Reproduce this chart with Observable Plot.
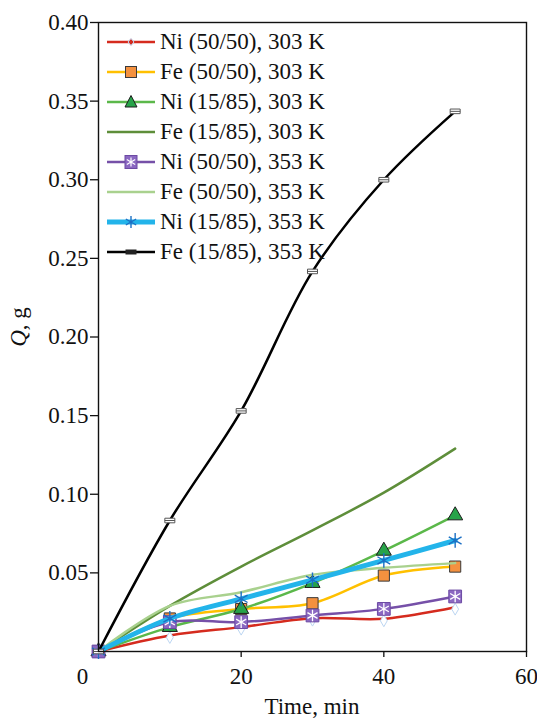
<!DOCTYPE html>
<html>
<head>
<meta charset="utf-8">
<script src="https://cdn.jsdelivr.net/npm/d3@7"></script>
<script src="https://cdn.jsdelivr.net/npm/@observablehq/plot@0.6"></script>
<style>
  html, body { margin: 0; padding: 0; background: #fff; }
  #wrap { position: relative; width: 537px; height: 722px; font-family: "Liberation Serif", "Times New Roman", serif; }
  #legend { position: absolute; left: 105px; top: 27px; }
  .row { height: 30px; display: flex; align-items: center; }
  .row svg { width: 52px; height: 20px; flex: none; }
  .row span { font-size: 23px; color: #111; margin-left: 3px; line-height: 30px; white-space: nowrap; }
  #ylab { position: absolute; left: 19px; top: 327px; transform: translate(-50%, -50%) rotate(-90deg); font-size: 23px; white-space: nowrap; color: #111; }
  #xlab { position: absolute; left: 312px; top: 694px; transform: translateX(-50%); font-size: 23px; white-space: nowrap; color: #111; }
</style>
</head>
<body>
<div id="wrap"></div>
<script>
// ---- data ----
const time = [0, 10, 20, 30, 40, 50];
const seriesNames = [
  "Ni (50/50), 303 K", "Fe (50/50), 303 K", "Ni (15/85), 303 K", "Fe (15/85), 303 K",
  "Ni (50/50), 353 K", "Fe (50/50), 353 K", "Ni (15/85), 353 K", "Fe (15/85), 353 K"
];
const ni5050_303 = [0, 0.0102, 0.0155, 0.0212, 0.0208, 0.0282];
const fe5050_303 = [0, 0.0210, 0.0270, 0.0307, 0.0483, 0.0540];
const ni1585_303 = [0, 0.0155, 0.0270, 0.0435, 0.0640, 0.0865];
const fe1585_303 = [0, 0.0290, 0.0540, 0.0770, 0.1010, 0.1290];
const ni5050_353 = [0, 0.0187, 0.0187, 0.0229, 0.0271, 0.0350];
const fe5050_353 = [0, 0.0290, 0.0377, 0.0488, 0.0532, 0.0562];
const ni1585_353 = [0, 0.0210, 0.0335, 0.0456, 0.0579, 0.0706];
const fe1585_353 = [0, 0.0833, 0.1530, 0.2417, 0.3000, 0.3435];
const yTicks = [0.05, 0.10, 0.15, 0.20, 0.25, 0.30, 0.35, 0.40];
const xTicks = [20, 40, 60];

const values = [ni5050_303, fe5050_303, ni1585_303, fe1585_303, ni5050_353, fe5050_353, ni1585_353, fe1585_353];
const rows = (vals) => time.map((t, i) => ({t, q: vals[i]}));

// ---- styles ----
const lineStyle = [
  {stroke: "#d52b1e", w: 2.5},
  {stroke: "#ffc000", w: 2.5},
  {stroke: "#5bb84a", w: 2.5},
  {stroke: "#5e8e3a", w: 2.5},
  {stroke: "#7650a8", w: 2.5},
  {stroke: "#a9d18e", w: 2.5},
  {stroke: "#23b4ea", w: 5},
  {stroke: "#000000", w: 2.5}
];

const blackSym = {
  draw(ctx) {
    const w = 5, h = 2.3;
    ctx.moveTo(-w, -h); ctx.lineTo(w, -h); ctx.lineTo(w, h); ctx.lineTo(-w, h); ctx.closePath();
    ctx.moveTo(-w, 0); ctx.lineTo(w, 0);
  }
};

const marks = [];
values.forEach((vals, i) => {
  const d = rows(vals);
  marks.push(Plot.line(d, {x: "t", y: "q", curve: "catmull-rom", stroke: lineStyle[i].stroke, strokeWidth: lineStyle[i].w}));
  if (i === 0) marks.push(Plot.dot(d.slice(1), {x: "t", y: "q", dy: 2, symbol: "diamond", r: 3.6, fill: "#ffffff", stroke: "#bcd6f2", strokeWidth: 1}));
  if (i === 1) marks.push(Plot.dot(d, {x: "t", y: "q", symbol: "square", r: 6.3, fill: "#f4913f", stroke: "#3a3a3a", strokeWidth: 1}));
  if (i === 2) marks.push(Plot.dot(d, {x: "t", y: "q", symbol: "triangle", r: 5.6, fill: "#27a349", stroke: "#1d1d1d", strokeWidth: 1}));
  if (i === 4) {
    marks.push(Plot.dot(d, {x: "t", y: "q", symbol: "square", r: 7.2, fill: "#8b68c2", stroke: "#6c4aa3", strokeWidth: 1}));
    marks.push(Plot.dot(d, {x: "t", y: "q", symbol: "asterisk", r: 5.5, stroke: "#ffffff", strokeWidth: 1.3}));
  }
  if (i === 6) marks.push(Plot.dot(d, {x: "t", y: "q", symbol: "asterisk", r: 7, stroke: "#1c6fc4", strokeWidth: 1.4}));
  if (i === 7) marks.push(Plot.dot(d, {x: "t", y: "q", symbol: blackSym, fill: "#ffffff", stroke: "#555", strokeWidth: 1}));
});

const chart = Plot.plot({
  width: 537,
  height: 722,
  marginTop: 22,
  marginBottom: 71,
  marginLeft: 98,
  marginRight: 11,
  style: {fontFamily: "'Liberation Serif', 'Times New Roman', serif", fontSize: "23px", color: "#111", background: "#fff"},
  x: {domain: [0, 60]},
  y: {domain: [0, 0.40]},
  marks: [
    ...marks,
    Plot.frame({stroke: "#111", strokeWidth: 1.4}),
    Plot.axisY({ticks: yTicks, tickFormat: d3.format(".2f"), tickSize: 8, tickPadding: 2, fontSize: 23, label: null, strokeWidth: 1.3}),
    Plot.axisX({ticks: xTicks, tickFormat: d3.format("d"), tickSize: 6, tickPadding: 10, fontSize: 23, label: null, strokeWidth: 1.3}),
    Plot.axisX({ticks: [0], tickFormat: d3.format("d"), tickSize: 0, tickPadding: 16, dx: -16, fontSize: 23, label: null})
  ]
});

const wrap = document.getElementById("wrap");
wrap.appendChild(chart);

// ---- legend ----
const legendMarker = [
  `<path d="M26,6.5 L29,10 L26,13.5 L23,10 Z" fill="#d52b1e" stroke="#bcd6f2" stroke-width="1"/>`,
  `<rect x="20.5" y="4.5" width="11" height="11" fill="#f4913f" stroke="#3a3a3a"/>`,
  `<path d="M26,3.5 L32,15 L20,15 Z" fill="#27a349" stroke="#1d1d1d"/>`,
  ``,
  `<rect x="20" y="3.5" width="12" height="13" fill="#8b68c2" stroke="#6c4aa3"/><path d="M26,5.5 V14.5 M21.8,7.5 L30.2,12.5 M21.8,12.5 L30.2,7.5" stroke="#fff" stroke-width="1.2"/>`,
  ``,
  `<path d="M26,4 V16 M20.8,7 L31.2,13 M20.8,13 L31.2,7" stroke="#1c6fc4" stroke-width="1.4"/>`,
  `<rect x="21" y="8" width="10" height="4" fill="#222" stroke="#222"/>`
];
const legend = document.createElement("div");
legend.id = "legend";
seriesNames.forEach((name, i) => {
  const row = document.createElement("div");
  row.className = "row";
  row.innerHTML = `<svg viewBox="0 0 52 20"><line x1="2" x2="50" y1="10" y2="10" stroke="${lineStyle[i].stroke}" stroke-width="${lineStyle[i].w}"/>${legendMarker[i]}</svg><span>${name}</span>`;
  legend.appendChild(row);
});
wrap.appendChild(legend);

const ylab = document.createElement("div");
ylab.id = "ylab";
ylab.innerHTML = "<i>Q</i>, g";
wrap.appendChild(ylab);

const xlab = document.createElement("div");
xlab.id = "xlab";
xlab.textContent = "Time, min";
wrap.appendChild(xlab);
</script>
</body>
</html>
